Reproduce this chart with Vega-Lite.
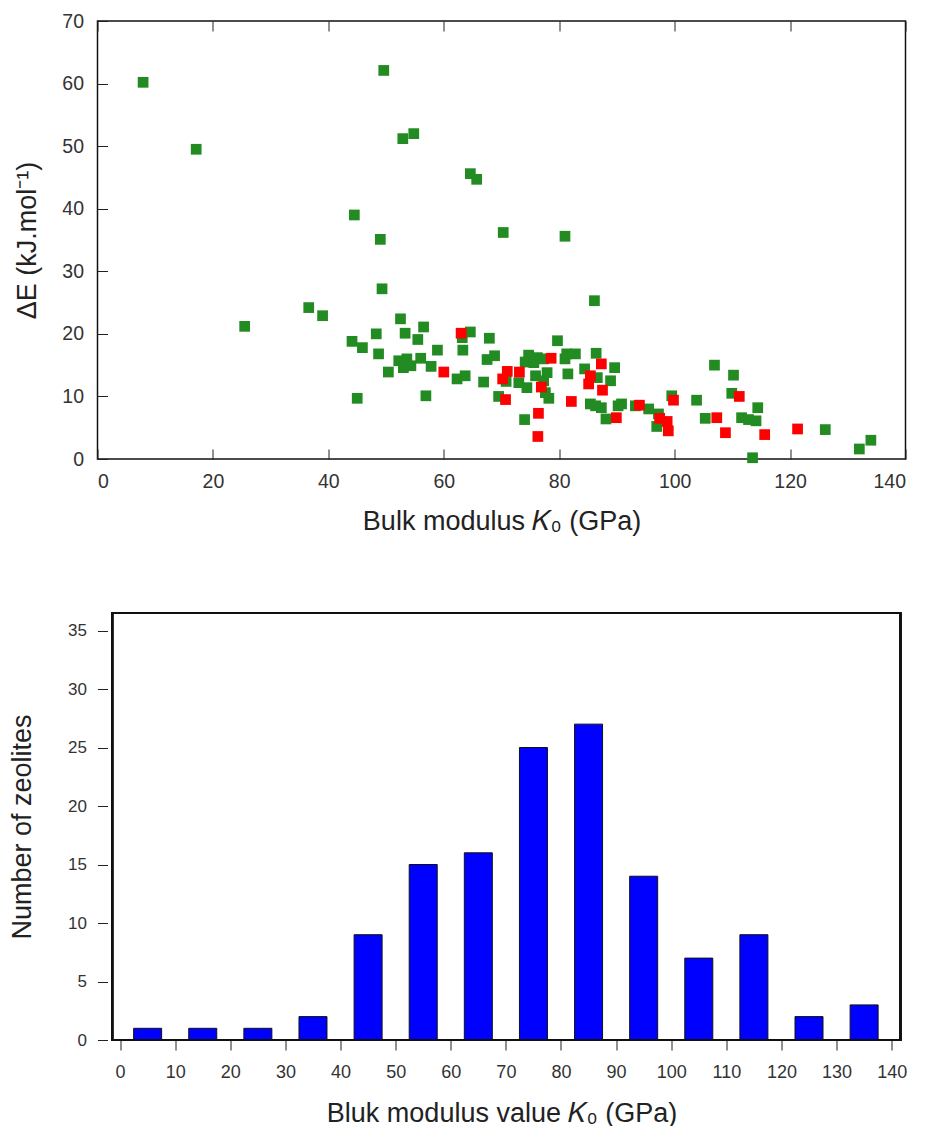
{
  "$schema": "https://vega.github.io/schema/vega-lite/v6.json",
  "padding": {"left": 8.5, "top": 10, "right": 5, "bottom": 0},
  "spacing": 76,
  "config": {
    "font": "Liberation Sans",
    "view": {"stroke": "#111", "strokeWidth": 1.5},
    "axis": {"grid": false, "domain": false, "labelFont": "Liberation Sans", "titleFont": "Liberation Sans", "labelColor": "#333", "titleColor": "#222", "tickColor": "#222", "titleFontWeight": "normal"}
  },
  "vconcat": [
    {
      "width": 808,
      "height": 438,
      "data": {"values": [
        {"K0": 7.9, "dE": 60.2, "group": "g"}, {"K0": 17.1, "dE": 49.5, "group": "g"}, {"K0": 49.6, "dE": 62.1, "group": "g"},
        {"K0": 52.9, "dE": 51.2, "group": "g"}, {"K0": 54.8, "dE": 52.0, "group": "g"}, {"K0": 64.6, "dE": 45.6, "group": "g"},
        {"K0": 65.7, "dE": 44.7, "group": "g"}, {"K0": 44.5, "dE": 39.0, "group": "g"}, {"K0": 49.0, "dE": 35.1, "group": "g"},
        {"K0": 70.3, "dE": 36.2, "group": "g"}, {"K0": 81.0, "dE": 35.6, "group": "g"}, {"K0": 86.1, "dE": 25.3, "group": "g"},
        {"K0": 49.3, "dE": 27.2, "group": "g"}, {"K0": 36.6, "dE": 24.2, "group": "g"}, {"K0": 39.0, "dE": 22.9, "group": "g"},
        {"K0": 25.5, "dE": 21.2, "group": "g"}, {"K0": 52.5, "dE": 22.4, "group": "g"}, {"K0": 56.5, "dE": 21.1, "group": "g"},
        {"K0": 53.3, "dE": 20.1, "group": "g"}, {"K0": 48.3, "dE": 20.0, "group": "g"}, {"K0": 64.6, "dE": 20.3, "group": "g"},
        {"K0": 67.9, "dE": 19.3, "group": "g"}, {"K0": 44.1, "dE": 18.8, "group": "g"}, {"K0": 45.9, "dE": 17.8, "group": "g"},
        {"K0": 55.5, "dE": 19.1, "group": "g"}, {"K0": 48.7, "dE": 16.8, "group": "g"}, {"K0": 58.9, "dE": 17.4, "group": "g"},
        {"K0": 63.3, "dE": 17.4, "group": "g"}, {"K0": 56.0, "dE": 16.1, "group": "g"}, {"K0": 52.2, "dE": 15.7, "group": "g"},
        {"K0": 53.6, "dE": 16.0, "group": "g"}, {"K0": 53.0, "dE": 14.6, "group": "g"}, {"K0": 54.3, "dE": 14.9, "group": "g"},
        {"K0": 57.8, "dE": 14.8, "group": "g"}, {"K0": 50.4, "dE": 13.9, "group": "g"}, {"K0": 67.5, "dE": 15.9, "group": "g"},
        {"K0": 68.8, "dE": 16.5, "group": "g"}, {"K0": 62.3, "dE": 12.8, "group": "g"}, {"K0": 63.7, "dE": 13.3, "group": "g"},
        {"K0": 66.9, "dE": 12.3, "group": "g"}, {"K0": 45.0, "dE": 9.7, "group": "g"}, {"K0": 56.9, "dE": 10.1, "group": "g"},
        {"K0": 69.5, "dE": 10.0, "group": "g"}, {"K0": 63.2, "dE": 19.4, "group": "g"}, {"K0": 79.7, "dE": 18.9, "group": "g"},
        {"K0": 74.7, "dE": 16.6, "group": "g"}, {"K0": 76.2, "dE": 16.2, "group": "g"}, {"K0": 74.1, "dE": 15.5, "group": "g"},
        {"K0": 75.6, "dE": 15.4, "group": "g"}, {"K0": 77.3, "dE": 16.0, "group": "g"}, {"K0": 81.3, "dE": 16.8, "group": "g"},
        {"K0": 82.8, "dE": 16.8, "group": "g"}, {"K0": 81.0, "dE": 16.0, "group": "g"}, {"K0": 86.4, "dE": 16.9, "group": "g"},
        {"K0": 89.6, "dE": 14.6, "group": "g"}, {"K0": 84.4, "dE": 14.4, "group": "g"}, {"K0": 88.9, "dE": 12.5, "group": "g"},
        {"K0": 81.5, "dE": 13.6, "group": "g"}, {"K0": 75.9, "dE": 13.3, "group": "g"}, {"K0": 77.9, "dE": 13.8, "group": "g"},
        {"K0": 73.0, "dE": 12.2, "group": "g"}, {"K0": 74.4, "dE": 11.4, "group": "g"}, {"K0": 77.3, "dE": 12.5, "group": "g"},
        {"K0": 77.6, "dE": 10.6, "group": "g"}, {"K0": 78.2, "dE": 9.7, "group": "g"}, {"K0": 85.4, "dE": 8.8, "group": "g"},
        {"K0": 86.3, "dE": 8.5, "group": "g"}, {"K0": 87.3, "dE": 8.2, "group": "g"}, {"K0": 90.8, "dE": 8.8, "group": "g"},
        {"K0": 90.2, "dE": 8.5, "group": "g"}, {"K0": 88.1, "dE": 6.4, "group": "g"}, {"K0": 74.0, "dE": 6.3, "group": "g"},
        {"K0": 93.2, "dE": 8.5, "group": "g"}, {"K0": 95.5, "dE": 8.0, "group": "g"}, {"K0": 97.2, "dE": 7.2, "group": "g"},
        {"K0": 96.9, "dE": 5.2, "group": "g"}, {"K0": 99.5, "dE": 10.1, "group": "g"}, {"K0": 86.6, "dE": 13.0, "group": "g"},
        {"K0": 106.9, "dE": 15.0, "group": "g"}, {"K0": 110.2, "dE": 13.4, "group": "g"}, {"K0": 109.9, "dE": 10.5, "group": "g"},
        {"K0": 103.8, "dE": 9.4, "group": "g"}, {"K0": 105.3, "dE": 6.5, "group": "g"}, {"K0": 111.6, "dE": 6.6, "group": "g"},
        {"K0": 112.8, "dE": 6.3, "group": "g"}, {"K0": 114.1, "dE": 6.1, "group": "g"}, {"K0": 114.4, "dE": 8.2, "group": "g"},
        {"K0": 113.5, "dE": 0.2, "group": "g"}, {"K0": 126.1, "dE": 4.7, "group": "g"}, {"K0": 132.0, "dE": 1.6, "group": "g"},
        {"K0": 134.0, "dE": 3.0, "group": "g"}, {"K0": 70.8, "dE": 12.4, "group": "g"},
        {"K0": 63.0, "dE": 20.1, "group": "r"}, {"K0": 60.0, "dE": 13.9, "group": "r"}, {"K0": 71.0, "dE": 14.0, "group": "r"},
        {"K0": 70.2, "dE": 12.8, "group": "r"}, {"K0": 73.1, "dE": 13.9, "group": "r"}, {"K0": 70.7, "dE": 9.5, "group": "r"},
        {"K0": 78.6, "dE": 16.1, "group": "r"}, {"K0": 76.9, "dE": 11.5, "group": "r"}, {"K0": 76.4, "dE": 7.3, "group": "r"},
        {"K0": 76.3, "dE": 3.6, "group": "r"}, {"K0": 82.1, "dE": 9.2, "group": "r"}, {"K0": 87.3, "dE": 15.2, "group": "r"},
        {"K0": 85.4, "dE": 13.3, "group": "r"}, {"K0": 85.1, "dE": 12.0, "group": "r"}, {"K0": 87.5, "dE": 11.0, "group": "r"},
        {"K0": 89.9, "dE": 6.6, "group": "r"}, {"K0": 93.9, "dE": 8.6, "group": "r"}, {"K0": 97.4, "dE": 6.5, "group": "r"},
        {"K0": 98.7, "dE": 6.0, "group": "r"}, {"K0": 98.9, "dE": 4.5, "group": "r"}, {"K0": 99.8, "dE": 9.4, "group": "r"},
        {"K0": 111.2, "dE": 10.0, "group": "r"}, {"K0": 107.3, "dE": 6.6, "group": "r"}, {"K0": 108.8, "dE": 4.2, "group": "r"},
        {"K0": 115.6, "dE": 3.9, "group": "r"}, {"K0": 121.3, "dE": 4.8, "group": "r"}
      ]},
      "layer": [
        {
          "mark": {"type": "point", "shape": "square", "filled": true, "size": 115, "opacity": 1},
          "encoding": {
            "x": {
              "field": "K0", "type": "quantitative",
              "scale": {"domain": [0, 140], "nice": false},
              "axis": {"values": [0, 20, 40, 60, 80, 100, 120, 140], "tickSize": -10, "labelPadding": 23, "labelFontSize": 19.5,
                       "title": "Bulk modulus 𝐾₀ (GPa)", "titleFontSize": 27, "titlePadding": 18}
            },
            "y": {
              "field": "dE", "type": "quantitative",
              "scale": {"domain": [0, 70], "nice": false},
              "axis": {"values": [0, 10, 20, 30, 40, 50, 60, 70], "tickSize": -10, "labelPadding": 24, "labelFontSize": 19.5,
                       "title": "ΔE (kJ.mol⁻¹)", "titleFontSize": 27, "titlePadding": 20}
            },
            "color": {"field": "group", "type": "nominal", "scale": {"domain": ["g", "r"], "range": ["#228b22", "#ff0000"]}, "legend": null}
          }
        },
        {
          "mark": {"type": "point", "opacity": 0},
          "encoding": {
            "x": {
              "field": "K0", "type": "quantitative",
              "scale": {"domain": [0, 140], "nice": false},
              "axis": {"orient": "top", "values": [0, 20, 40, 60, 80, 100, 120, 140], "tickSize": -10, "labels": false, "title": null}
            }
          }
        }
      ],
      "resolve": {"axis": {"x": "independent"}}
    },
    {
      "width": 808,
      "height": 427,
      "view": {"stroke": null},
      "data": {"values": [
        {"K0": 5, "count": 1}, {"K0": 15, "count": 1}, {"K0": 25, "count": 1}, {"K0": 35, "count": 2},
        {"K0": 45, "count": 9}, {"K0": 55, "count": 15}, {"K0": 65, "count": 16}, {"K0": 75, "count": 25},
        {"K0": 85, "count": 27}, {"K0": 95, "count": 14}, {"K0": 105, "count": 7}, {"K0": 115, "count": 9},
        {"K0": 125, "count": 2}, {"K0": 135, "count": 3}
      ]},
      "layer": [
        {
          "mark": {"type": "bar", "width": 28, "fill": "#0000ff", "stroke": "#111", "strokeWidth": 1},
          "encoding": {
            "x": {
              "field": "K0", "type": "quantitative",
              "scale": {"domain": [-3.19, 141.6], "nice": false, "zero": false},
              "axis": {"values": [0, 10, 20, 30, 40, 50, 60, 70, 80, 90, 100, 110, 120, 130, 140], "tickSize": 10, "labelPadding": 13, "labelFontSize": 18,
                       "title": "Bluk modulus value 𝐾₀ (GPa)", "titleFontSize": 27, "titlePadding": 19}
            },
            "y": {
              "field": "count", "type": "quantitative",
              "scale": {"domain": [0, 36.5], "nice": false},
              "axis": {"values": [0, 5, 10, 15, 20, 25, 30, 35], "offset": -10, "tickSize": 10, "labelPadding": 11, "labelFontSize": 17,
                       "title": "Number of zeolites", "titleFontSize": 27, "titlePadding": 31}
            }
          }
        },
        {
          "mark": {"type": "rect", "fillOpacity": 0, "stroke": "#111", "strokeWidth": 1.5},
          "encoding": {
            "x": {"datum": -1.4, "type": "quantitative"},
            "x2": {"datum": 141.6},
            "y": {"datum": 0, "type": "quantitative"},
            "y2": {"datum": 36.5}
          }
        }
      ]
    }
  ]
}
